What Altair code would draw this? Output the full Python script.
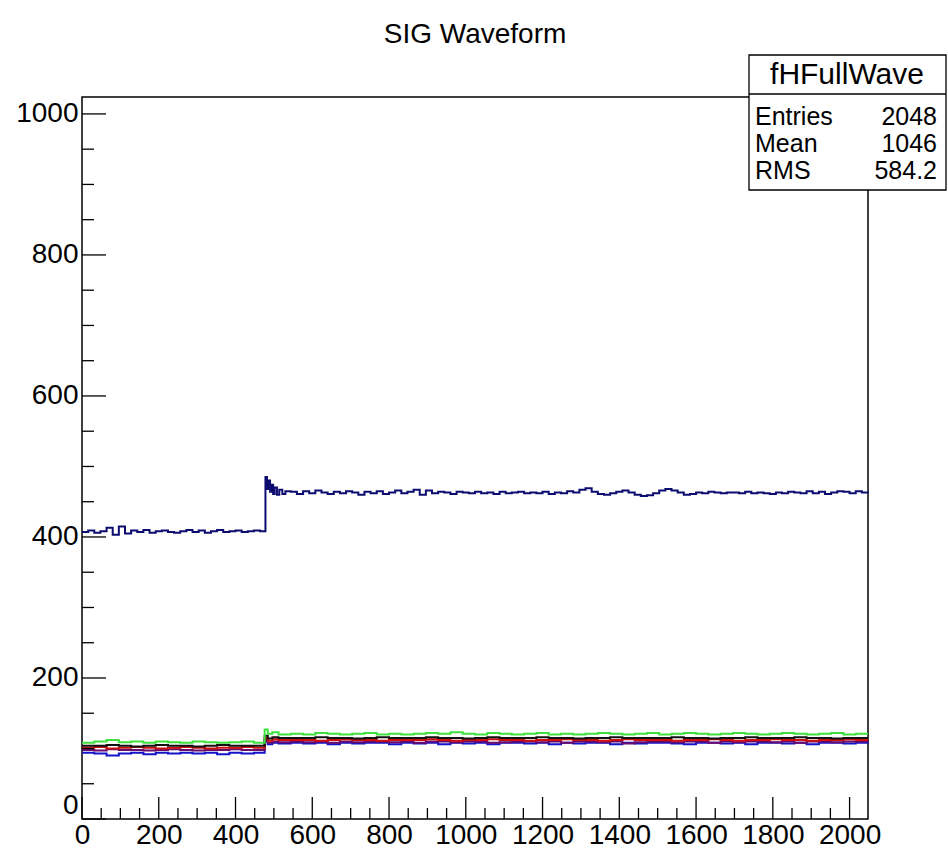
import altair as alt
import pandas as pd

W, H = 786, 722
FONT = "Liberation Sans"

# ---------------- data ----------------
# top (navy) channel
top_x = list(range(0, 465, 16)) + [478, 482, 486, 490, 494, 498, 502, 508, 514, 522, 530] + list(range(544, 2049, 16))
top_y = [
    407, 409, 406, 408, 413, 403, 415, 405, 409, 407, 410, 406, 408, 409, 407,
    406, 408, 410, 407, 409, 406, 408, 410, 407, 408, 409, 407, 408, 409, 408,
    485, 468, 480, 464, 474, 461, 470, 460, 467, 461, 465,
    464, 461, 465, 462, 466, 463, 461, 464, 462, 465,
    463, 460, 464, 462, 465, 461, 463, 466, 462, 464,
    467, 460, 466, 462, 464, 463, 461, 464, 463, 462,
    464, 462, 463, 461, 464, 462, 463, 464, 462, 463,
    462, 464, 461, 463, 462, 465, 463, 467, 469, 464,
    461, 460, 462, 464, 466, 463, 460, 458, 459, 462,
    466, 468, 466, 463, 460, 461, 463, 462, 464, 463,
    462, 463, 463, 462, 464, 462, 463, 462, 461, 463,
    462, 464, 463, 462, 465, 462, 464, 461, 463, 465,
    464, 462, 465, 463, 464,
]

# lower channels
low_x = list(range(0, 449, 32)) + [476, 484, 496, 512] + list(range(544, 2049, 32))
green_y = [
    108, 110, 112, 109, 110, 108, 110, 109, 108, 110, 109, 108, 109, 110, 108,
    127, 121, 123, 120,
    121, 120, 122, 121, 120, 121, 122, 120, 121, 120,
    121, 122, 121, 123, 121, 120, 122, 121, 120, 121,
    122, 120, 121, 120, 121, 122, 121, 120, 121, 122,
    120, 121, 122, 121, 120, 121, 122, 121, 120, 121,
    122, 121, 120, 121, 122, 120, 121, 121,
]
black_y = [
    104, 104, 105, 104, 103, 104, 105, 104, 104, 103, 104, 105, 104, 104, 104,
    118, 114, 116, 115,
    115, 115, 116, 115, 115, 114, 115, 116, 115, 115,
    115, 116, 115, 115, 114, 115, 116, 115, 115, 115,
    116, 115, 115, 114, 115, 115, 116, 115, 115, 115,
    115, 116, 115, 115, 114, 115, 115, 116, 115, 115,
    115, 116, 115, 115, 114, 115, 115, 115,
]
red_y = [
    101, 102, 100, 101, 102, 101, 100, 101, 102, 101, 100, 101, 101, 102, 101,
    115, 111, 113, 112,
    112, 112, 111, 112, 113, 112, 112, 111, 112, 112,
    112, 113, 112, 111, 112, 112, 113, 112, 112, 111,
    112, 112, 113, 112, 112, 111, 112, 113, 112, 112,
    112, 111, 112, 112, 113, 112, 111, 112, 112, 113,
    112, 112, 111, 112, 112, 113, 112, 112,
]
purple_y = [
    98, 97, 99, 98, 98, 97, 98, 99, 98, 97, 98, 98, 99, 98, 98,
    112, 108, 110, 109,
    110, 109, 110, 108, 110, 109, 110, 110, 109, 110,
    108, 110, 110, 109, 110, 110, 108, 109, 110, 110,
    109, 110, 108, 110, 110, 109, 110, 107, 109, 110,
    110, 109, 110, 110, 108, 110, 109, 110, 110, 109,
    110, 108, 110, 110, 109, 110, 110, 109,
]
blue_y = [
    94, 93, 90, 93, 94, 92, 94, 93, 94, 93, 94, 92, 94, 93, 94,
    110, 106, 108, 107,
    108, 107, 108, 106, 108, 107, 108, 108, 106, 108,
    107, 108, 106, 108, 107, 108, 106, 108, 108, 107,
    108, 106, 108, 107, 108, 108, 106, 108, 107, 108,
    108, 107, 106, 108, 108, 107, 108, 106, 108, 108,
    107, 108, 106, 108, 108, 107, 108, 107,
]

series = [
    ("blue", low_x, blue_y, "#1414c8"),
    ("purple", low_x, purple_y, "#6a0a6a"),
    ("red", low_x, red_y, "#cc1010"),
    ("black", low_x, black_y, "#111111"),
    ("green", low_x, green_y, "#3ee03e"),
    ("top", top_x, top_y, "#0c0c70"),
]

x_major = [0, 200, 400, 600, 800, 1000, 1200, 1400, 1600, 1800, 2000]
x_minor = [v for v in range(50, 2048, 50) if v % 200 != 0]
y_major = [0, 200, 400, 600, 800, 1000]
y_minor = [v for v in range(50, 1024, 50) if v % 200 != 0]

stat_labels = ["Entries", "Mean", "RMS"]
stat_values = ["2048", "1046", "584.2"]
stat_title = "fHFullWave"
chart_title = "SIG Waveform"

# ---------------- scales ----------------
xs = alt.Scale(domain=[0, 2048], nice=False, zero=False)
ys = alt.Scale(domain=[0, 1024], nice=False, zero=False)

xaxis = alt.Axis(values=x_major, title=None, grid=False, domain=False, ticks=False, format="d",
                 labelFont=FONT, labelFontSize=28, labelColor="black", labelPadding=2,
                 labelFlush=False, labelOverlap=False)
yaxis = alt.Axis(values=y_major, title=None, grid=False, domain=False, ticks=False, format="d",
                 labelFont=FONT, labelFontSize=28, labelColor="black", labelPadding=4,
                 labelOverlap=False,
                 labelBaseline={"condition": {"test": "datum.value == 0", "value": "bottom"}, "value": "middle"})

layers = []
for name, xv, yv, col in series:
    assert len(xv) == len(yv), (name, len(xv), len(yv))
    df = pd.DataFrame({"x": xv, "y": yv})
    layers.append(
        alt.Chart(df).mark_line(interpolate="step-after", color=col, strokeWidth=2).encode(
            x=alt.X("x:Q", scale=xs, axis=xaxis),
            y=alt.Y("y:Q", scale=ys, axis=yaxis),
        )
    )

# inward ticks
def xticks(vals, length):
    return alt.Chart(pd.DataFrame({"x": vals})).mark_rule(color="black", strokeWidth=1.3).encode(
        x=alt.X("x:Q", scale=xs, axis=xaxis), y=alt.value(H), y2=alt.value(H - length))

def yticks(vals, length):
    return alt.Chart(pd.DataFrame({"y": vals})).mark_rule(color="black", strokeWidth=1.3).encode(
        y=alt.Y("y:Q", scale=ys, axis=yaxis), x=alt.value(0), x2=alt.value(length))

layers += [xticks(x_major, 22), xticks(x_minor, 11), yticks(y_major, 24), yticks(y_minor, 12)]

# stats box
box = alt.Chart(pd.DataFrame({"a": [0]})).mark_rect(fill="white", stroke="black", strokeWidth=1.3).encode(
    x=alt.value(667), x2=alt.value(864), y=alt.value(-42), y2=alt.value(93))
sep = alt.Chart(pd.DataFrame({"a": [0]})).mark_rule(color="black", strokeWidth=1.3).encode(
    x=alt.value(667), x2=alt.value(864), y=alt.value(-3))
stitle = alt.Chart(pd.DataFrame({"t": [stat_title]})).mark_text(
    font=FONT, fontSize=30, align="center", baseline="middle", color="black").encode(
    text="t:N", x=alt.value(765), y=alt.value(-22))
sdf = pd.DataFrame({"lab": stat_labels, "val": stat_values, "row": [20, 47, 74]})
slab = alt.Chart(sdf).mark_text(font=FONT, fontSize=25, align="left", baseline="middle", color="black").encode(
    text="lab:N", x=alt.value(673), y=alt.Y("row:Q", scale=None, axis=None))
sval = alt.Chart(sdf).mark_text(font=FONT, fontSize=25, align="right", baseline="middle", color="black").encode(
    text="val:N", x=alt.value(855), y=alt.Y("row:Q", scale=None, axis=None))
ttl = alt.Chart(pd.DataFrame({"t": [chart_title]})).mark_text(
    font=FONT, fontSize=28, align="center", baseline="middle", color="black").encode(
    text="t:N", x=alt.value(W / 2), y=alt.value(-62))

layers += [box, sep, stitle, slab, sval, ttl]

chart = alt.layer(*layers).properties(
    width=W, height=H,
    autosize=alt.AutoSizeParams(type="none"),
    padding={"left": 82, "top": 97, "right": 80, "bottom": 40},
    background="white",
).configure_view(stroke="black", strokeWidth=1.5)

chart.save("out.html", embed_options={"renderer": "svg", "actions": False})
